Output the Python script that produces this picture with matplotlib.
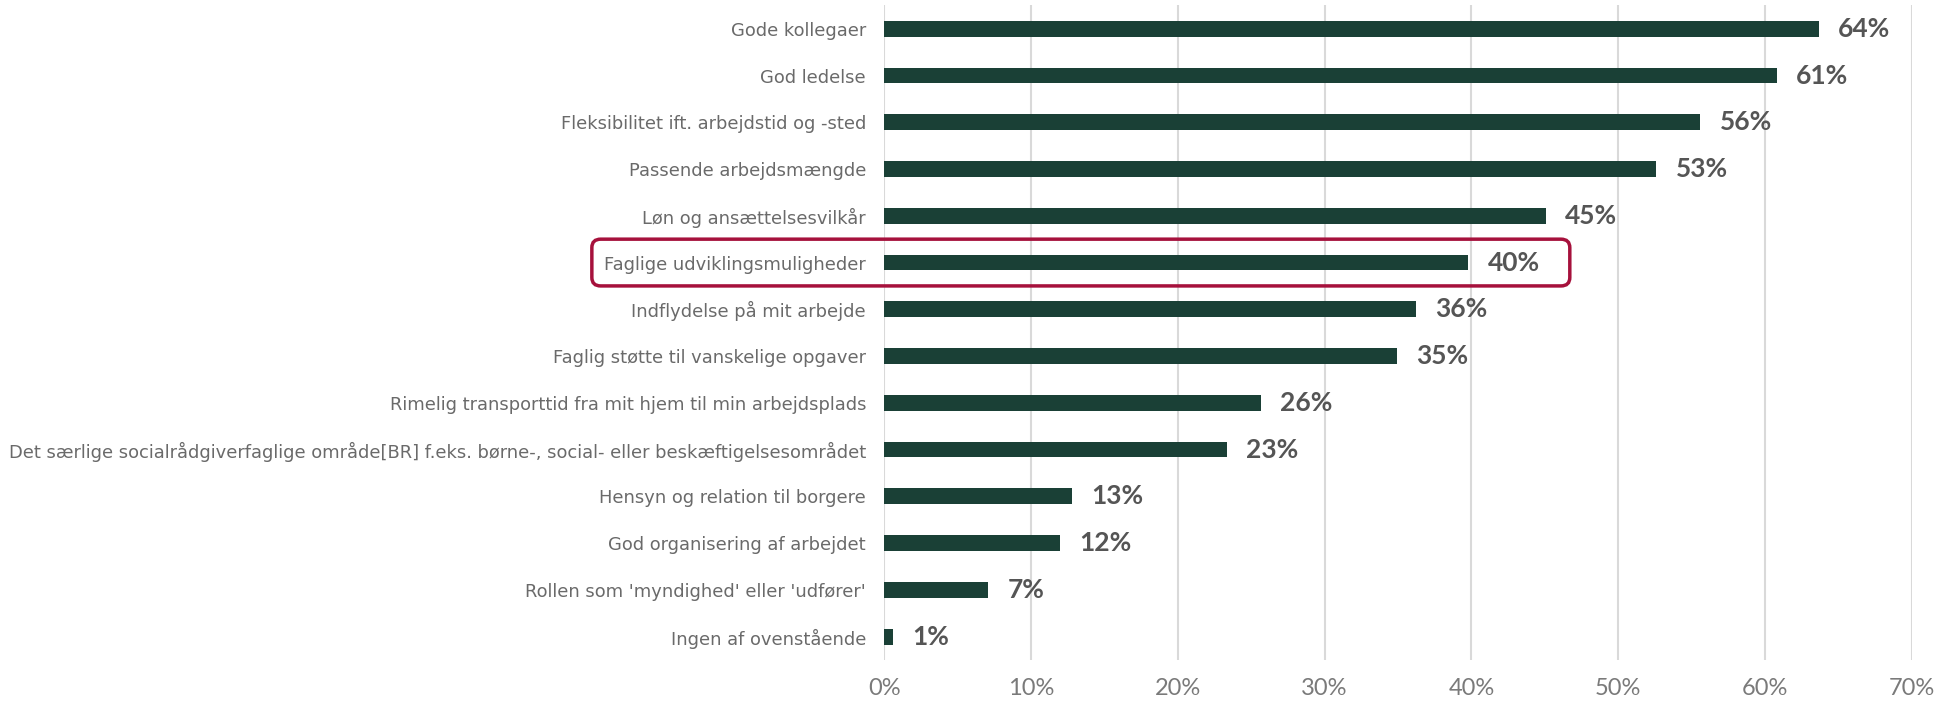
import matplotlib
matplotlib.use("Agg")
import matplotlib.pyplot as plt
from matplotlib.patches import FancyBboxPatch

# Andel der nævner hvert forhold (%)
kategorier = [
    "Gode kollegaer",
    "God ledelse",
    "Fleksibilitet ift. arbejdstid og -sted",
    "Passende arbejdsmængde",
    "Løn og ansættelsesvilkår",
    "Faglige udviklingsmuligheder",
    "Indflydelse på mit arbejde",
    "Faglig støtte til vanskelige opgaver",
    "Rimelig transporttid fra mit hjem til min arbejdsplads",
    "Det særlige socialrådgiverfaglige område[BR] f.eks. børne-, social- eller beskæftigelsesområdet",
    "Hensyn og relation til borgere",
    "God organisering af arbejdet",
    "Rollen som 'myndighed' eller 'udfører'",
    "Ingen af ovenstående",
]
andele = [63.65, 60.8, 55.6, 52.6, 45.1, 39.8, 36.2, 34.9, 25.65, 23.35, 12.8, 12.0, 7.1, 0.6]
x_ticks = [0, 10, 20, 30, 40, 50, 60, 70]
fremhaevet = "Faglige udviklingsmuligheder"

BAR = "#1A4036"
TEKST = "#6A6A6A"
VAERDI = "#555555"
GRID = "#D9D9D9"
RAMME = "#A6113C"

plt.rcParams['font.family'] = ['DejaVu Sans']

fig = plt.figure(figsize=(19.46, 7.04), dpi=100)
ax = fig.add_axes([0.4543, 0.0626, 0.9825 - 0.4543, 0.9923 - 0.0626])

pos = list(range(len(kategorier)))
ax.barh(pos, andele, height=0.34, color=BAR, zorder=3)

ax.set_xlim(0, 70)
ax.set_ylim(len(kategorier) - 0.5, -0.5)
ax.set_xticks(x_ticks)
ax.set_xticklabels([f"{t}%" for t in x_ticks], fontsize=17, color="#7A7A7A",
                   family=["Lato", "DejaVu Sans"])
ax.set_yticks(pos)
ax.set_yticklabels(kategorier, fontsize=12.9, color=TEKST)
ax.tick_params(axis="x", length=0, pad=13)
ax.tick_params(axis="y", length=0, pad=13)
ax.grid(axis="x", color=GRID, linewidth=1.5, zorder=0)
for s in ax.spines.values():
    s.set_visible(False)

for i, v in enumerate(andele):
    ax.text(v + 1.3, i, f"{v:.0f}%", va="center", ha="left", fontsize=19,
            fontweight="bold", color=VAERDI, family=["Lato", "DejaVu Sans"],
            zorder=4)

# ramme om den fremhævede kategori
i = kategorier.index(fremhaevet)
boks = FancyBboxPatch((-19.9, i - 0.5), 19.9 + 46.7, 1.0,
                      boxstyle="round,pad=0,rounding_size=0.6",
                      mutation_aspect=0.3, fill=False, edgecolor=RAMME,
                      linewidth=2.5, clip_on=False, zorder=5)
ax.add_patch(boks)

fig.savefig("out.png", dpi=100)
